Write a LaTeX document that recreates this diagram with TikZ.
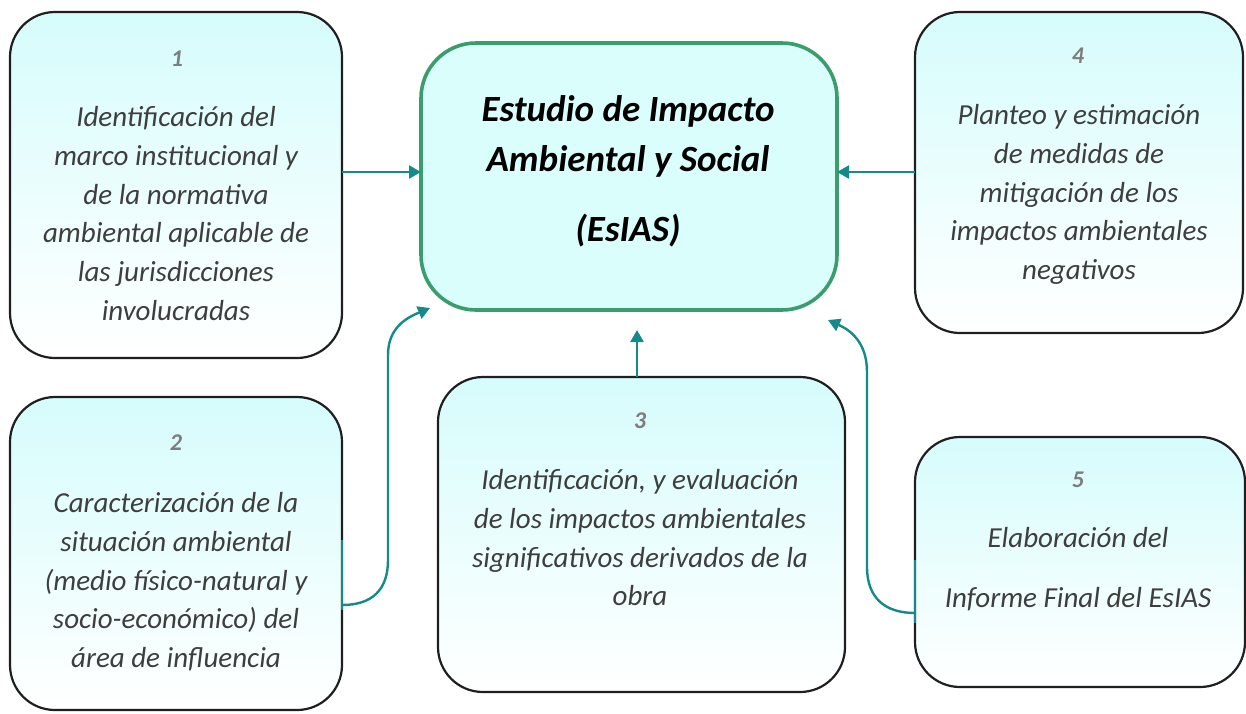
\documentclass[tikz,border=0pt]{standalone}
\usepackage{fontspec}
\setmainfont{Carlito}
\usetikzlibrary{arrows.meta,calc}
\definecolor{tealc}{RGB}{20,138,138}
\definecolor{greenb}{RGB}{58,158,108}
\definecolor{cfill}{RGB}{218,254,252}
\definecolor{btop}{RGB}{214,252,252}
\definecolor{txtg}{RGB}{62,62,62}
\definecolor{numg}{RGB}{125,125,125}
\tikzset{
  box/.style={draw=black!88, line width=2.2pt, rounded corners=45pt, shade, top color=btop, bottom color=white, inner sep=0pt, outer sep=0pt},
  mainbox/.style={draw=greenb, line width=3.6pt, rounded corners=55pt, fill=cfill, inner sep=0pt, outer sep=0pt},
  conn/.style={draw=tealc, line width=2.4pt, -{Triangle[length=12pt,width=13pt]}},
  connline/.style={draw=tealc, line width=2.4pt},
  btxt/.style={anchor=north, inner sep=0pt, align=center, text=txtg, font=\fontsize{29}{38.7}\selectfont\itshape},
  numtxt/.style={anchor=base, inner sep=0pt, text=numg, font=\fontsize{24}{28}\selectfont\bfseries\itshape},
  mtxt/.style={anchor=north, inner sep=0pt, align=center, text=black, font=\fontsize{37}{50}\selectfont\bfseries\itshape}
}
\begin{document}
\begin{tikzpicture}[x=1pt,y=-1pt]
\useasboundingbox (0,0) rectangle (1246,713);
% boxes
\node[mainbox, minimum width=416pt, minimum height=267pt] (c) at (629,176.5) {};
\node[box, minimum width=332pt, minimum height=346pt] (b1) at (176,185) {};
\node[box, minimum width=328pt, minimum height=321pt] (b4) at (1079,172.5) {};
\node[box, minimum width=332pt, minimum height=313pt] (b2) at (176,553.5) {};
\node[box, minimum width=407pt, minimum height=315pt] (b3) at (641.5,534.5) {};
\node[box, minimum width=330pt, minimum height=250pt] (b5) at (1080,562) {};
% central text
\node[mtxt] (ct) at (628,91.5) {\rule{0pt}{30pt}Estudio de Impacto\\Ambiental y Social\\[20pt](EsIAS)};
% numbers
\node[numtxt] (n1) at (177,66) {1};
\node[numtxt] (n4) at (1078,63) {4};
\node[numtxt] (n2) at (176,450) {2};
\node[numtxt] (n3) at (640,428) {3};
\node[numtxt] (n5) at (1078,487) {5};
% box texts
\node[btxt] (t1) at (176,106.5) {\rule{0pt}{20pt}Identificación del\\marco institucional y\\de la normativa\\ambiental aplicable de\\las jurisdicciones\\involucradas};
\node[btxt] (t4) at (1079,104.5) {\rule{0pt}{20pt}Planteo y estimación\\de medidas de\\mitigación de los\\impactos ambientales\\negativos};
\node[btxt] (t2) at (176,492.5) {\rule{0pt}{20pt}Caracterización de la\\situación ambiental\\(medio físico-natural y\\socio-económico) del\\área de influencia};
\node[btxt] (t3) at (640,469.5) {\rule{0pt}{20pt}Identificación, y evaluación\\de los impactos ambientales\\significativos derivados de la\\obra};
\node[btxt, font=\fontsize{29}{60}\selectfont\itshape] (t5) at (1078,527.5) {\rule{0pt}{20pt}Elaboración del\\Informe Final del EsIAS};
% connector end points
\coordinate (e2) at (430,308);
\coordinate (e5) at (828,320);
\coordinate (e3) at ([xshift=8pt,yshift=-20pt]c.south);
% straight connectors
\draw[conn] ([yshift=13pt]b1.east) -- ([yshift=4.5pt]c.west);
\draw[conn] ([yshift=0.5pt]b4.west) -- ([yshift=4.5pt]c.east);
\draw[conn] ([xshift=-4.5pt]b3.north) -- (e3);
% curved connectors
\draw[connline] ([yshift=13.5pt]b2.east) -- ([yshift=-56pt]b2.east);
\draw[conn] ([yshift=-51.5pt]b2.east) .. controls (372,605) and (388,590) .. (388,560) -- (388,355) .. controls (388,328) and (406,318) .. (e2);
\draw[connline] ([yshift=2pt]b5.west) -- ([yshift=-61pt]b5.west);
\draw[conn] ([yshift=-51pt]b5.west) .. controls (885,613) and (867,598) .. (867,567) -- (867,372) .. controls (867,342) and (850,330) .. (e5);
\end{tikzpicture}
\end{document}
